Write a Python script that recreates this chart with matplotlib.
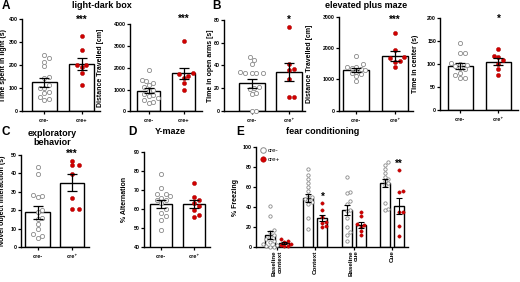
import matplotlib
matplotlib.use('Agg')
import matplotlib.pyplot as plt
import numpy as np
from matplotlib.lines import Line2D

plt.rcParams['font.family'] = ['Liberation Sans', 'DejaVu Sans']
plt.rcParams['font.weight'] = 'bold'
plt.rcParams['axes.labelweight'] = 'bold'

# ---- data ----
# light-dark box
ld_time_neg = [245, 232, 215, 195, 150, 145, 115, 100, 100, 85, 80, 60, 55, 50]
ld_time_pos = [325, 265, 200, 200, 190, 165, 115]
ld_time_mean = [125, 205]
ld_time_sem = [18, 28]

ld_dist_neg = [1900, 1450, 1400, 1300, 1200, 1100, 1000, 950, 800, 750, 700, 600, 500, 450, 400]
ld_dist_pos = [3230, 1750, 1700, 1600, 1550, 1300, 980]
ld_dist_mean = [950, 1750]
ld_dist_sem = [120, 260]

# elevated plus maze
epm_open_neg = [47, 45, 41, 34, 33, 33, 33, 33, 21, 20, 19, 16, 15, 0, 0]
epm_open_pos = [74, 41, 37, 36, 28, 12, 12]
epm_open_mean = [24, 34]
epm_open_sem = [4, 8]

epm_dist_neg = [1760, 1480, 1400, 1380, 1370, 1340, 1300, 1250, 1200, 1180, 1100, 950]
epm_dist_pos = [2480, 1930, 1700, 1680, 1600, 1570, 1380]
epm_dist_mean = [1290, 1740]
epm_dist_sem = [60, 150]

epm_ctr_neg = [145, 123, 123, 102, 100, 97, 95, 90, 88, 80, 75, 70, 70]
epm_ctr_pos = [132, 116, 114, 108, 100, 88, 76]
epm_ctr_mean = [95, 105]
epm_ctr_sem = [7, 7]

# exploratory behavior
nov_neg = [43.5, 39.5, 28.5, 28, 27, 20, 19, 16, 15.5, 12.5, 10, 7, 6, 5]
nov_pos = [47, 44.5, 44.5, 39.5, 26.5, 21, 21]
nov_mean = [19, 35]
nov_sem = [3.5, 4.5]

# Y-maze
ym_neg = [78.5, 71, 68, 68, 67, 66, 65, 65, 63, 60, 58, 56, 54, 49]
ym_pos = [74, 66.5, 65, 63, 61.5, 59.5, 57, 55.5]
ym_mean = [62.5, 62.5]
ym_sem = [2, 2]

# fear conditioning
fc_labels = ['Baseline\ncontext', 'Context', 'Baseline\ncue', 'Cue']
fc_neg = [
    [41, 31, 17, 15, 12, 10, 8, 6, 5, 3, 2, 1, 0, 0],
    [78, 72, 68, 64, 60, 56, 52, 50, 48, 47, 45, 43, 29, 18],
    [70, 55, 54, 46, 43, 37, 36, 29, 20, 15, 12, 6],
    [85, 82, 78, 74, 70, 68, 66, 64, 62, 44, 38, 37],
]
fc_pos = [
    [8, 6, 5, 3, 2, 1, 1],
    [44, 37, 30, 25, 24, 21, 20],
    [35, 31, 23, 22, 20, 16, 12],
    [77, 56, 55, 35, 35, 21, 11],
]
fc_mean_neg = [12, 49, 37, 64]
fc_mean_pos = [4, 28.5, 22, 41]
fc_sem_neg = [4, 4, 5, 4]
fc_sem_pos = [1.2, 3, 3, 8]
fc_stars = ['', '*', '', '**']

RED = '#d10000'
GREY = '#8a8a8a'

W, H = 520, 282
fig = plt.figure(figsize=(W / 100, H / 100), dpi=100)


def add_ax(l, r, t, b):
    return fig.add_axes([l / W, 1 - b / H, (r - l) / W, (b - t) / H])


def style(ax, ylim, yticks, ylabel, rect, label_x):
    ax.set_ylim(ylim)
    ax.set_yticks(yticks)
    for s in ['top', 'right']:
        ax.spines[s].set_visible(False)
    for s in ['left', 'bottom']:
        ax.spines[s].set_linewidth(1.0)
    ax.tick_params(labelsize=3.8, length=2, width=0.9, pad=0.8)
    ax.set_ylabel(ylabel, fontsize=5.0)
    l, r = rect[0], rect[1]
    ax.yaxis.set_label_coords((label_x - l) / (r - l), 0.5)


def swarm(ax, xc, vals, dpx):
    # spread points sideways so they do not overlap (in pixel space)
    vals = np.asarray(vals, float)
    pts = ax.transData.transform(np.column_stack([np.full(len(vals), xc), vals]))
    order = np.argsort(pts[:, 1])
    placed = []
    out = np.zeros_like(pts)
    cands = [0]
    for k in range(1, 12):
        cands += [k * dpx * 0.5, -k * dpx * 0.5]
    for i in order:
        px, py = pts[i]
        for c in cands:
            ok = all((px + c - qx) ** 2 + (py - qy) ** 2 >= dpx ** 2 for qx, qy in placed)
            if ok:
                break
        placed.append((px + c, py))
        out[i] = (px + c, py)
    return ax.transData.inverted().transform(out)


def points(ax, xc, vals, pos, ms, dpx):
    xy = swarm(ax, xc, vals, dpx)
    if pos:
        ax.plot(xy[:, 0], xy[:, 1], 'o', ms=ms, mfc=RED, mec='#a00000', mew=0.3,
                zorder=3, clip_on=False)
    else:
        ax.plot(xy[:, 0], xy[:, 1], 'o', ms=ms, mfc='white', mec=GREY, mew=0.6,
                zorder=3, clip_on=False)


def two_group(rect, label_x, xlim, width, neg, pos, mean, sem, ylim, yticks, ylabel,
              xlabels, star, star_y):
    ax = add_ax(*rect)
    ax.set_xlim(xlim)
    style(ax, ylim, yticks, ylabel, rect, label_x)
    ax.bar([0, 1], mean, width=width, color='white', edgecolor='black',
           linewidth=1.0, zorder=1)
    points(ax, 0, neg, False, 3.0, 4.6)
    points(ax, 1, pos, True, 3.0, 4.6)
    ax.errorbar([0, 1], mean, yerr=sem, fmt='none', ecolor='black',
                elinewidth=0.9, capsize=3.5, capthick=0.9, zorder=4)
    ax.set_xticks([0, 1])
    ax.set_xticklabels(xlabels, fontsize=4)
    ax.tick_params(axis='x', pad=3)
    ax.text(1, star_y, star, ha='center', va='center', fontsize=7,
            clip_on=False)
    return ax


lab_a = ['cre-', 'cre+']
lab_b = ['cre-', 'cre\u207a']

two_group((21.7, 100, 19, 111.3), 7, (-0.6, 1.49), 0.67, ld_time_neg, ld_time_pos,
          ld_time_mean, ld_time_sem, (0, 400), range(0, 401, 100),
          'Time spent in light (s)', lab_a, '***', 395)
two_group((130, 202, 24.3, 111.3), 104.5, (-0.54, 1.53), 0.66, ld_dist_neg, ld_dist_pos,
          ld_dist_mean, ld_dist_sem, (0, 4000), range(0, 4001, 1000),
          'Distance Travelled [cm]', lab_a, '***', 4230)
two_group((224, 305, 20, 110.7), 214, (-0.75, 1.43), 0.7, epm_open_neg, epm_open_pos,
          epm_open_mean, epm_open_sem, (0, 80), range(0, 81, 20),
          'Time in open arms [s]', lab_b, '*', 80)
two_group((339, 413, 16.7, 110.7), 313, (-0.44, 1.46), 0.67, epm_dist_neg, epm_dist_pos,
          epm_dist_mean, epm_dist_sem, (0, 3000), range(0, 3001, 1000),
          'Distance Travelled [cm]', lab_b, '***', 2900)
two_group((440, 517.7, 17.7, 110), 419, (-0.52, 1.5), 0.65, epm_ctr_neg, epm_ctr_pos,
          epm_ctr_mean, epm_ctr_sem, (0, 200), range(0, 201, 50),
          'Time in center (s)', lab_b, '*', 198)
two_group((21, 89, 155, 247.3), 6, (-0.48, 1.49), 0.7, nov_neg, nov_pos,
          nov_mean, nov_sem, (0, 50), range(0, 51, 10),
          'Novel object interaction (s)', lab_b, '***', 50.5)
two_group((144, 210, 152.3, 246.7), 128, (-0.52, 1.48), 0.65, ym_neg, ym_pos,
          ym_mean, ym_sem, (40, 90), range(40, 91, 10),
          '% Alternation', lab_b, '', 90)

# fear conditioning
e_rect = (256, 408, 147.3, 246.7)
ax = add_ax(*e_rect)
ax.set_xlim(-0.55, 3.42)
style(ax, (0, 100), range(0, 101, 20), '% Freezing', e_rect, 239)
xs = np.arange(len(fc_labels))
off, bw = 0.185, 0.26
ax.bar(xs - off, fc_mean_neg, width=bw, color='white', edgecolor='black', linewidth=1.0, zorder=1)
ax.bar(xs + off, fc_mean_pos, width=bw, color='white', edgecolor='black', linewidth=1.0, zorder=1)
for i in range(len(fc_labels)):
    points(ax, xs[i] - off, fc_neg[i], False, 2.4, 3.6)
    points(ax, xs[i] + off, fc_pos[i], True, 2.4, 3.6)
    ax.text(xs[i] + off, max(fc_pos[i]) + 6, fc_stars[i],
            ha='center', va='center', fontsize=7)
ax.errorbar(xs - off, fc_mean_neg, yerr=fc_sem_neg, fmt='none', ecolor='black',
            elinewidth=0.8, capsize=2, capthick=0.8, zorder=4)
ax.errorbar(xs + off, fc_mean_pos, yerr=fc_sem_pos, fmt='none', ecolor='black',
            elinewidth=0.8, capsize=2, capthick=0.8, zorder=4)
ax.set_xticks(xs)
ax.set_xticklabels(fc_labels, rotation=90, fontsize=4.5, ha='center', va='top',
                   multialignment='right')
handles = [Line2D([], [], ls='', marker='o', ms=4, mfc='white', mec=GREY, mew=0.7),
           Line2D([], [], ls='', marker='o', ms=4, mfc=RED, mec='#a00000', mew=0.3)]
ax.legend(handles, ['cre-', 'cre+'], loc='upper left', bbox_to_anchor=(0.0, 1.04),
          frameon=False, handlelength=0.8, handletextpad=0.3,
          borderpad=0.2, labelspacing=0.6, prop={'weight': 'normal', 'size': 4.5})


# panel letters and titles
def ftext(x, y, s, size, **kw):
    fig.text(x / W, 1 - y / H, s, fontsize=size, fontweight='bold', va='center', **kw)


ftext(2, 6, 'A', 8.5)
ftext(102, 6, 'light-dark box', 6.5, ha='center')
ftext(212, 6, 'B', 8.5)
ftext(366, 6, 'elevated plus maze', 6.5, ha='center')
ftext(2, 132, 'C', 8.5)
ftext(52, 138, 'exploratory\nbehavior', 6.5, ha='center', linespacing=1.0)
ftext(128, 132, 'D', 8.5)
ftext(170, 132, 'Y-maze', 6.5, ha='center')
ftext(236, 132, 'E', 8.5)
ftext(323, 132, 'fear conditioning', 6.5, ha='center')

fig.savefig('out.png', dpi=100)
